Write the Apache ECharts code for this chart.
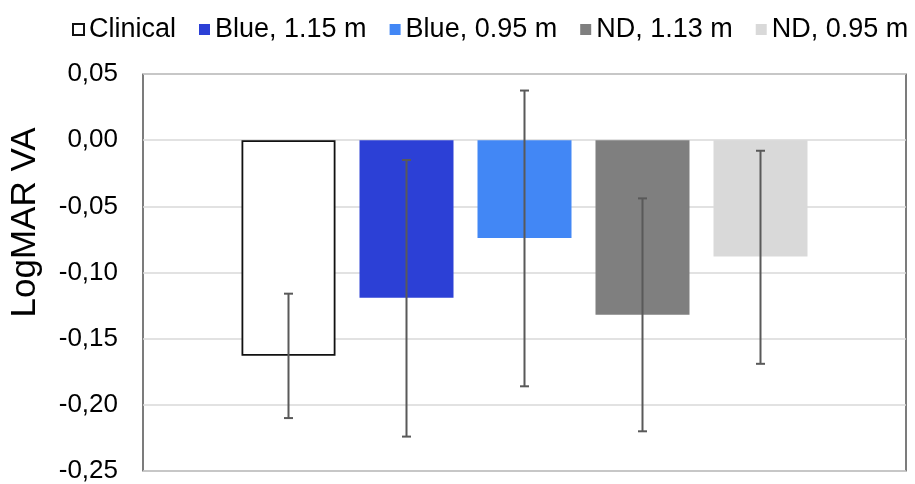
<!DOCTYPE html>
<html>
<head>
<meta charset="utf-8">
<script src="https://cdn.jsdelivr.net/npm/echarts@6/dist/echarts.min.js"></script>
<style>
html,body{margin:0;padding:0;background:#fff;}
#chart{width:915px;height:484px;}
</style>
</head>
<body>
<div id="chart"></div>
<script>
// ---- data ----
const categories = ['LogMAR'];
const seriesNames = ['Clinical', 'Blue, 1.15 m', 'Blue, 0.95 m', 'ND, 1.13 m', 'ND, 0.95 m'];
const meanValues = [-0.163, -0.119, -0.074, -0.132, -0.088];
const errLow = [-0.210, -0.224, -0.186, -0.220, -0.169];
const errHigh = [-0.116, -0.015, 0.0375, -0.044, -0.008];
const yTicks = [-0.25, -0.20, -0.15, -0.10, -0.05, 0.00, 0.05];

// ---- style ----
const colors = ['#FFFFFF', '#2C40D6', '#4287F5', '#7F7F7F', '#D9D9D9'];
const BAR_W = 94, BAR_GAP = 24;
const FONT = 'Liberation Sans, Arial, sans-serif';

const chart = echarts.init(document.getElementById('chart'), null, {renderer: 'canvas'});

const barSeries = seriesNames.map((name, i) => ({
  name: name,
  type: 'bar',
  barWidth: BAR_W,
  barGap: (BAR_GAP / BAR_W * 100).toFixed(2) + '%',
  data: [meanValues[i]],
  itemStyle: i === 0
    ? {color: colors[i], borderColor: '#111', borderWidth: 1.8}
    : {color: colors[i]},
  emphasis: {disabled: true}
}));

const errSeries = seriesNames.map((name, i) => ({
  type: 'custom',
  name: name + ' err',
  z: 10,
  data: [[0, errLow[i], errHigh[i]]],
  encode: {x: 0, y: [1, 2]},
  renderItem: function (params, api) {
    const lo = api.coord([api.value(0), api.value(1)]);
    const hi = api.coord([api.value(0), api.value(2)]);
    const x = lo[0] + (i - (seriesNames.length - 1) / 2) * (BAR_W + BAR_GAP);
    const cap = 4.5;
    const style = {stroke: '#595959', lineWidth: 2};
    return {
      type: 'group',
      children: [
        {type: 'line', shape: {x1: x, y1: lo[1], x2: x, y2: hi[1]}, style: style},
        {type: 'line', shape: {x1: x - cap, y1: lo[1], x2: x + cap, y2: lo[1]}, style: style},
        {type: 'line', shape: {x1: x - cap, y1: hi[1], x2: x + cap, y2: hi[1]}, style: style}
      ]
    };
  }
}));

chart.setOption({
  animation: false,
  backgroundColor: '#fff',
  legend: {
    data: seriesNames,
    left: 72,
    top: 16,
    width: 843,
    padding: 0,
    itemWidth: 11,
    itemHeight: 11,
    itemGap: 23,
    icon: 'rect',
    textStyle: {fontFamily: FONT, fontSize: 27, color: '#000'},
    selectedMode: false
  },
  grid: {
    left: 138, right: 9, top: 74, bottom: 11,
    show: true, borderColor: '#262626', borderWidth: 1.2,
    containLabel: false
  },
  xAxis: {
    type: 'category',
    data: categories,
    axisLine: {show: false},
    axisTick: {show: false},
    axisLabel: {show: false},
    splitLine: {show: false}
  },
  yAxis: {
    type: 'value',
    min: yTicks[0],
    max: yTicks[yTicks.length - 1],
    interval: 0.05,
    name: 'LogMAR VA',
    nameLocation: 'middle',
    nameGap: 100,
    nameTextStyle: {fontFamily: FONT, fontSize: 35, color: '#000', padding: [0, 0, 0, 100]},
    axisLine: {show: false},
    axisTick: {show: false},
    axisLabel: {
      fontFamily: FONT, fontSize: 26, color: '#000', margin: 25,
      formatter: v => v.toFixed(2).replace('.', ',')
    },
    splitLine: {lineStyle: {color: '#D9D9D9', width: 1.5}}
  },
  series: barSeries.concat(errSeries)
});
</script>
</body>
</html>
